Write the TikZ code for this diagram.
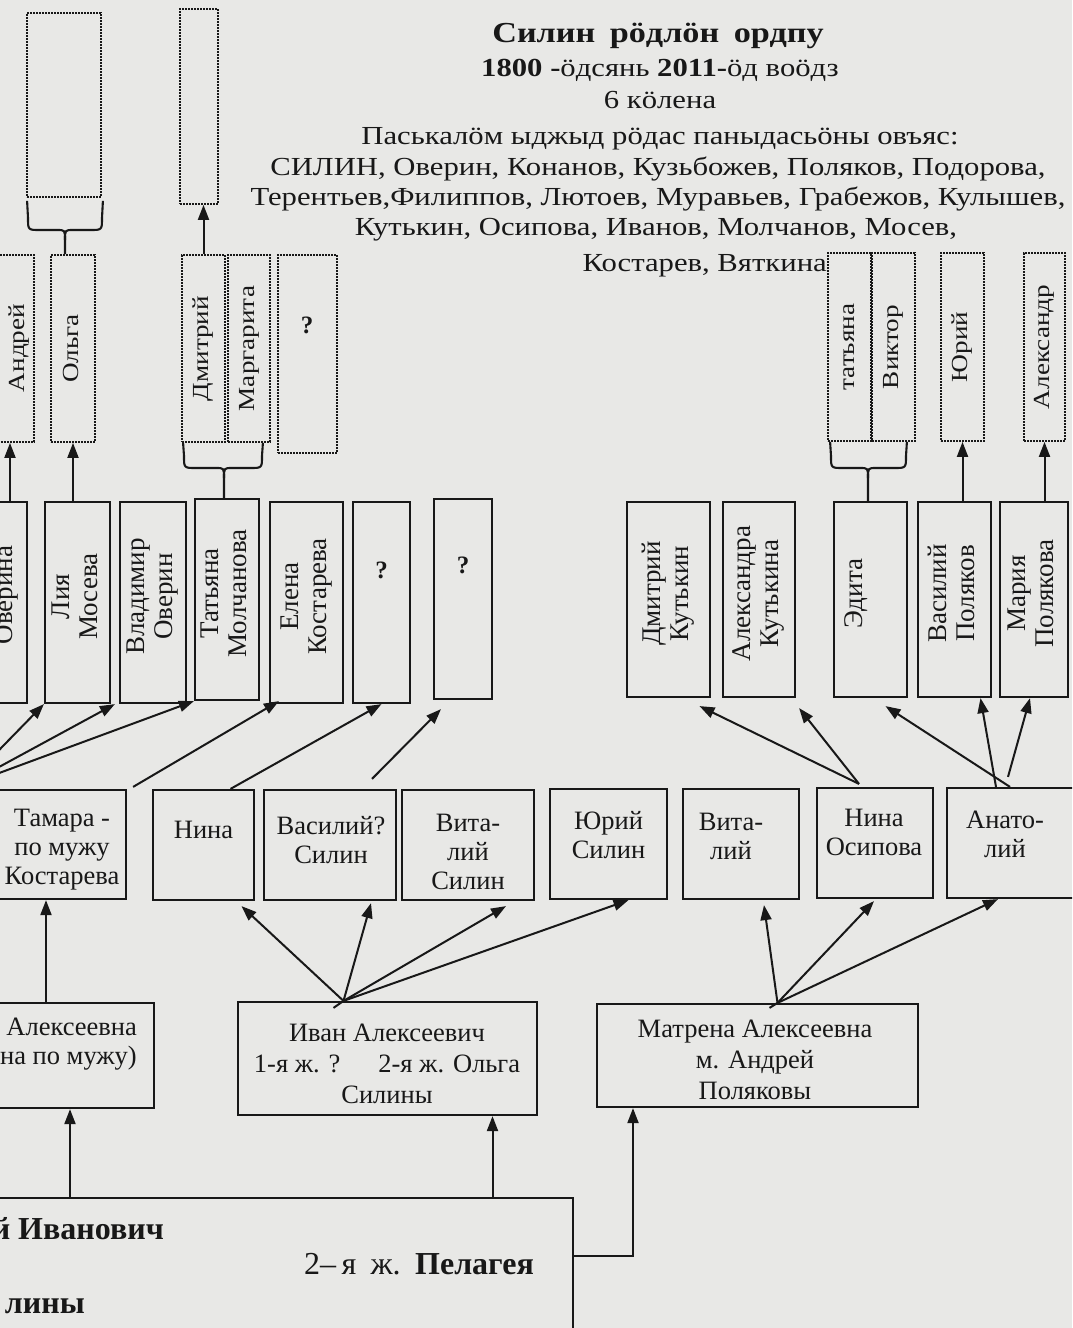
\documentclass[tikz,border=0pt]{standalone}
\usepackage{fontspec}
\setmainfont{Liberation Serif}
\newfontfamily\widefont[FakeStretch=1.18]{Liberation Serif}
\usepackage{graphicx}
\usetikzlibrary{arrows.meta,calc}
\definecolor{paper}{RGB}{232,232,230}
\definecolor{ink}{RGB}{24,24,24}
\newcommand{\rottxt}[1]{\rotatebox{90}{\begin{tabular}{@{}c@{}}#1\end{tabular}}}
\newcommand{\rottxtup}[1]{\rotatebox{90}{\hspace*{12pt}\begin{tabular}{@{}c@{}}#1\end{tabular}}}
\newcommand{\bx}[7]{\node[#1,minimum width={(#4)-(#2)},minimum height={(#5)-(#3)}] (#6) at ({((#2)+(#4))/2},{((#3)+(#5))/2}) {#7};}
\begin{document}
\begin{tikzpicture}[x=1pt,y=-1pt,
  solid/.style={draw=ink,line width=2.2pt,inner sep=0pt,text=ink},
  dots/.style={draw=ink,line width=1.8pt,dash pattern=on 1.7pt off 1.3pt,inner sep=0pt,text=ink},
  con/.style={draw=ink,line width=2pt},
  arr/.style={con,-{Triangle[width=11pt,length=15pt]}},
  brace/.style={draw=ink,line width=2.1pt,line join=round},
  hdr/.style={text=ink,font=\widefont\fontsize{26}{30}\selectfont,anchor=base,inner sep=0pt},
  nm/.style={font=\widefont\fontsize{23}{27}\selectfont},
  pr/.style={font=\fontsize{27}{28}\selectfont},
  lbl/.style={text=ink,font=\fontsize{26.5}{29}\selectfont,align=center,anchor=north,inner sep=0pt},
  lblw/.style={lbl,font=\fontsize{26.5}{31}\selectfont},
  qm/.style={text=ink,font=\bfseries\fontsize{25}{28}\selectfont,inner sep=0pt},
  bigtxt/.style={text=ink,font=\fontsize{32}{36}\selectfont,inner sep=0pt},
]
\fill[paper] (0,0) rectangle (1072,1328);
\useasboundingbox (0,0) rectangle (1072,1328);
\clip (0,0) rectangle (1072,1328);

% ---------- header ----------
\node[hdr,font=\widefont\bfseries\fontsize{29}{33}\selectfont] (h1) at (658,42) {Силин\hspace{.5em}рӧдлӧн\hspace{.5em}ордпу};
\node[hdr] (h2) at (660,76) {\textbf{1800 -}ӧдсянь \textbf{2011-}ӧд воӧдз};
\node[hdr] (h3) at (660,108.5) {6 кӧлена};
\node[hdr] (h4) at (660,144) {Паськалӧм ыджыд рӧдас паныдасьӧны овъяс:};
\node[hdr] (h5) at (658,175.5) {СИЛИН, Оверин, Конанов, Кузьбожев, Поляков, Подорова,};
\node[hdr] (h6) at (658,205.5) {Терентьев,Филиппов, Лютоев, Муравьев, Грабежов, Кулышев,};
\node[hdr] (h7) at (656,235.5) {Кутькин, Осипова, Иванов, Молчанов, Мосев,};
\node[hdr,anchor=base east] (h8) at (827,271.5) {Костарев, Вяткина};

% ---------- dotted boxes ----------
\bx{dots}{27}{13}{101}{197}{dTopL}{}
\bx{dots}{180}{9}{218}{204}{dTopM}{}
\bx{dots}{-14}{255}{34}{442}{dAndr}{}
\node[nm,text=ink,inner sep=0pt] (dAndrT) at (19,348) {\rottxt{Андрей}};
\bx{dots,nm}{51}{255}{95}{442}{dOlga}{\rottxt{Ольга}}
\bx{dots,nm}{182}{255}{225}{442}{dDmit}{\rottxt{Дмитрий}}
\bx{dots,nm}{228}{255}{270}{442}{dMarg}{\rottxt{Маргарита}}
\bx{dots}{278}{255}{337}{453}{dQ}{}
\node[qm] (dQT) at (307,325) {?};
\bx{dots,nm}{828}{253}{871}{441}{dTat}{\rottxt{татьяна}}
\bx{dots,nm}{872}{253}{915}{441}{dVik}{\rottxt{Виктор}}
\bx{dots,nm}{941}{253}{984}{441}{dYur}{\rottxt{Юрий}}
\bx{dots,nm}{1024}{253}{1065}{441}{dAlx}{\rottxt{Александр}}

% ---------- solid tall boxes ----------
\bx{solid}{-40}{502}{27}{703}{sOver}{}
\node[pr,text=ink,inner sep=0pt] (sOverT) at (7,595) {\rottxt{Оверина}};
\bx{solid,pr}{45}{502}{110}{703}{sLia}{\rottxtup{Лия\\Мосева}}
\bx{solid,pr}{120}{502}{186}{703}{sVlad}{\rottxtup{Владимир\\Оверин}}
\bx{solid,pr}{195}{499}{259}{700}{sTatM}{\rottxtup{Татьяна\\Молчанова}}
\bx{solid,pr}{270}{502}{343}{703}{sElen}{\rottxtup{Елена\\Костарева}}
\bx{solid}{353}{502}{410}{703}{sQa}{}
\node[qm] (sQaT) at (381.5,570) {?};
\bx{solid}{434}{499}{492}{699}{sQb}{}
\node[qm] (sQbT) at (463,565) {?};
\bx{solid,pr}{627}{502}{710}{697}{sDK}{\rottxtup{Дмитрий\\Кутькин}}
\bx{solid,pr}{723}{502}{795}{697}{sAK}{\rottxtup{Александра\\Кутькина}}
\bx{solid,pr}{834}{502}{907}{697}{sEd}{\rottxtup{Эдита\\~}}
\bx{solid,pr}{918}{502}{991}{697}{sVP}{\rottxtup{Василий\\Поляков}}
\bx{solid,pr}{1000}{502}{1068}{697}{sMP}{\rottxtup{Мария\\Полякова}}

% ---------- middle row ----------
\bx{solid}{-4}{790}{126}{899}{cTam}{}
\node[lbl] (cTamT) at (62,809) {Тамара -\\по мужу\\Костарева};
\bx{solid}{153}{790}{254}{900}{cNina}{}
\node[lbl] (cNinaT) at (203.5,821) {Нина};
\bx{solid}{264}{790}{396}{900}{cVas}{}
\node[lbl] (cVasT) at (331,816) {Василий?\\Силин};
\bx{solid}{402}{790}{534}{900}{cVitS}{}
\node[lbl] (cVitST) at (468,814) {Вита-\\лий\\Силин};
\bx{solid}{550}{789}{667}{899}{cYur}{}
\node[lbl] (cYurT) at (608.5,811) {Юрий\\Силин};
\bx{solid}{683}{789}{799}{899}{cVit}{}
\node[lbl] (cVitT) at (731,813) {Вита-\\лий};
\bx{solid}{817}{788}{933}{898}{cNO}{}
\node[lbl] (cNOT) at (874,809) {Нина\\Осипова};
\bx{solid}{947}{788}{1085}{898}{cAn}{}
\node[lbl] (cAnT) at (1005,811) {Анато-\\лий};

% ---------- lower row ----------
\bx{solid}{-14}{1003}{154}{1108}{dAnna}{}
\node[lbl,align=right,anchor=north east] (dAnnaT) at (137,1018) {Алексеевна\\на по мужу)};
\bx{solid}{238}{1002}{537}{1115}{dIvan}{}
\node[lblw] (dIvanT) at (387,1024) {Иван Алексеевич\\1-я ж. ?\hspace{1.1em} 2-я ж. Ольга\\Силины};
\bx{solid}{597}{1004}{918}{1107}{dMatr}{}
\node[lblw] (dMatrT) at (755,1020) {Матрена Алексеевна\\м. Андрей\\Поляковы};

% ---------- bottom box ----------
\bx{solid}{-30}{1198}{573}{1360}{bigE}{}
\node[bigtxt,anchor=base east,font=\bfseries\fontsize{32}{36}\selectfont] (bigT1) at (164,1239) {й Иванович};
\node[bigtxt,anchor=base west] (bigT2) at (304,1274) {2–\,я\hspace{.45em}ж.\hspace{.45em}\textbf{Пелагея}};
\node[bigtxt,anchor=base east,font=\bfseries\fontsize{32}{36}\selectfont] (bigT3) at (85,1313) {лины};

% ---------- braces ----------
\coordinate (b1t) at ($(dOlga.north)+(-8,0)$);
\draw[brace] ($(dTopL.south west)+(1,3)$) -- (28,218) .. controls (28,230) .. (40,230) -- (57,230) .. controls (65,230) .. (65,240) -- (b1t);
\draw[brace] ($(dTopL.south east)+(1,3)$) -- (102,218) .. controls (102,230) .. (90,230) -- (73,230) .. controls (65,230) .. (65,240);
\coordinate (b2t) at ($(sTatM.north)+(-3,0)$);
\draw[brace] ($(dDmit.south west)+(2,0)$) -- (184,456) .. controls (184,468) .. (196,468) -- (216,468) .. controls (224,468) .. (224,478) -- (b2t);
\draw[brace] ($(dMarg.south east)+(-8,0)$) -- (262,456) .. controls (262,468) .. (250,468) -- (232,468) .. controls (224,468) .. (224,478);
\coordinate (b3t) at ($(sEd.north)+(-2.5,0)$);
\draw[brace] ($(dTat.south west)+(3,0)$) -- (831,456) .. controls (831,468) .. (843,468) -- (860,468) .. controls (868,468) .. (868,478) -- (b3t);
\draw[brace] ($(dVik.south east)+(-9,0)$) -- (906,456) .. controls (906,468) .. (894,468) -- (876,468) .. controls (868,468) .. (868,478);

% ---------- vertical arrows to dotted boxes ----------
\draw[arr] (dAndr.south |- sOver.north) -- (dAndr.south);
\draw[arr] (dOlga.south |- sLia.north) -- (dOlga.south);
\draw[arr] (dDmit.north) -- (dDmit.north |- dTopM.south);
\draw[arr] (dYur.south |- sVP.north) -- (dYur.south);
\draw[arr] (dAlx.south |- sMP.north) -- (dAlx.south);

% ---------- middle row -> tall boxes ----------
\coordinate (src0) at (-36,786);
\draw[arr] (src0) -- (sLia.south west);
\draw[arr] (src0) -- ($(sVlad.south west)+(-4,0)$);
\draw[arr] (src0) -- (sTatM.south west);
\draw[arr] ($(cTam.north east)+(6,-2)$) -- ($(sElen.south west)+(10,-3)$);
\draw[arr] ($(cNina.north)+(27,0)$) -- (sQa.south);
\draw[arr] ($(cVas.north)+(42,-10)$) -- ($(sQb.south)+(-22,9)$);
\draw[arr] ($(cNO.north)+(-16,-3)$) -- ($(sDK.south)+(31,8)$);
\draw[arr] ($(cNO.north)+(-16,-3)$) -- ($(sAK.south east)+(3,10)$);
\draw[arr] ($(cAn.north)+(-6,0)$) -- ($(sEd.south)+(15,8)$);
\draw[arr] ($(cAn.north)+(-20,0)$) -- ($(sVP.south)+(26,0)$);
\draw[arr] ($(cAn.north)+(-8,-10)$) -- ($(sMP.south)+(-4,0)$);

% ---------- lower row -> middle row ----------
\coordinate (ivA) at ($(dIvan.north)+(-44,0)$);
\draw[con] ($(ivA)+(-10,7)$) -- (ivA);
\draw[arr] (ivA) -- ($(cNina.south)+(38,5)$);
\draw[arr] (ivA) -- ($(cVas.south)+(41,2)$);
\draw[arr] (ivA) -- ($(cVitS.south)+(38,5)$);
\draw[arr] (ivA) -- ($(cYur.south)+(20,0)$);
\coordinate (mtA) at ($(dMatr.north)+(20,0)$);
\draw[con] ($(mtA)+(-8,5)$) -- (mtA);
\draw[arr] (mtA) -- ($(cVit.south)+(23,5)$);
\draw[arr] (mtA) -- ($(cNO.south)+(-1,2)$);
\draw[arr] (mtA) -- ($(cAn.south)+(-18,0)$);
\draw[arr] ($(dAnna.north)+(-24,0)$) -- ($(cTam.south)+(-15,0)$);

% ---------- bottom box -> lower row ----------
\draw[arr] (dAnna.south |- bigE.north) -- (dAnna.south);
\coordinate (ivB) at ($(dIvan.south)+(105,0)$);
\draw[arr] (ivB |- bigE.north) -- (ivB);
\coordinate (mtB) at ($(dMatr.south)+(-124.5,0)$);
\coordinate (bigR) at ($(bigE.north east)+(0,59)$);
\draw[arr] (bigR) -| (mtB);
\end{tikzpicture}
\end{document}
